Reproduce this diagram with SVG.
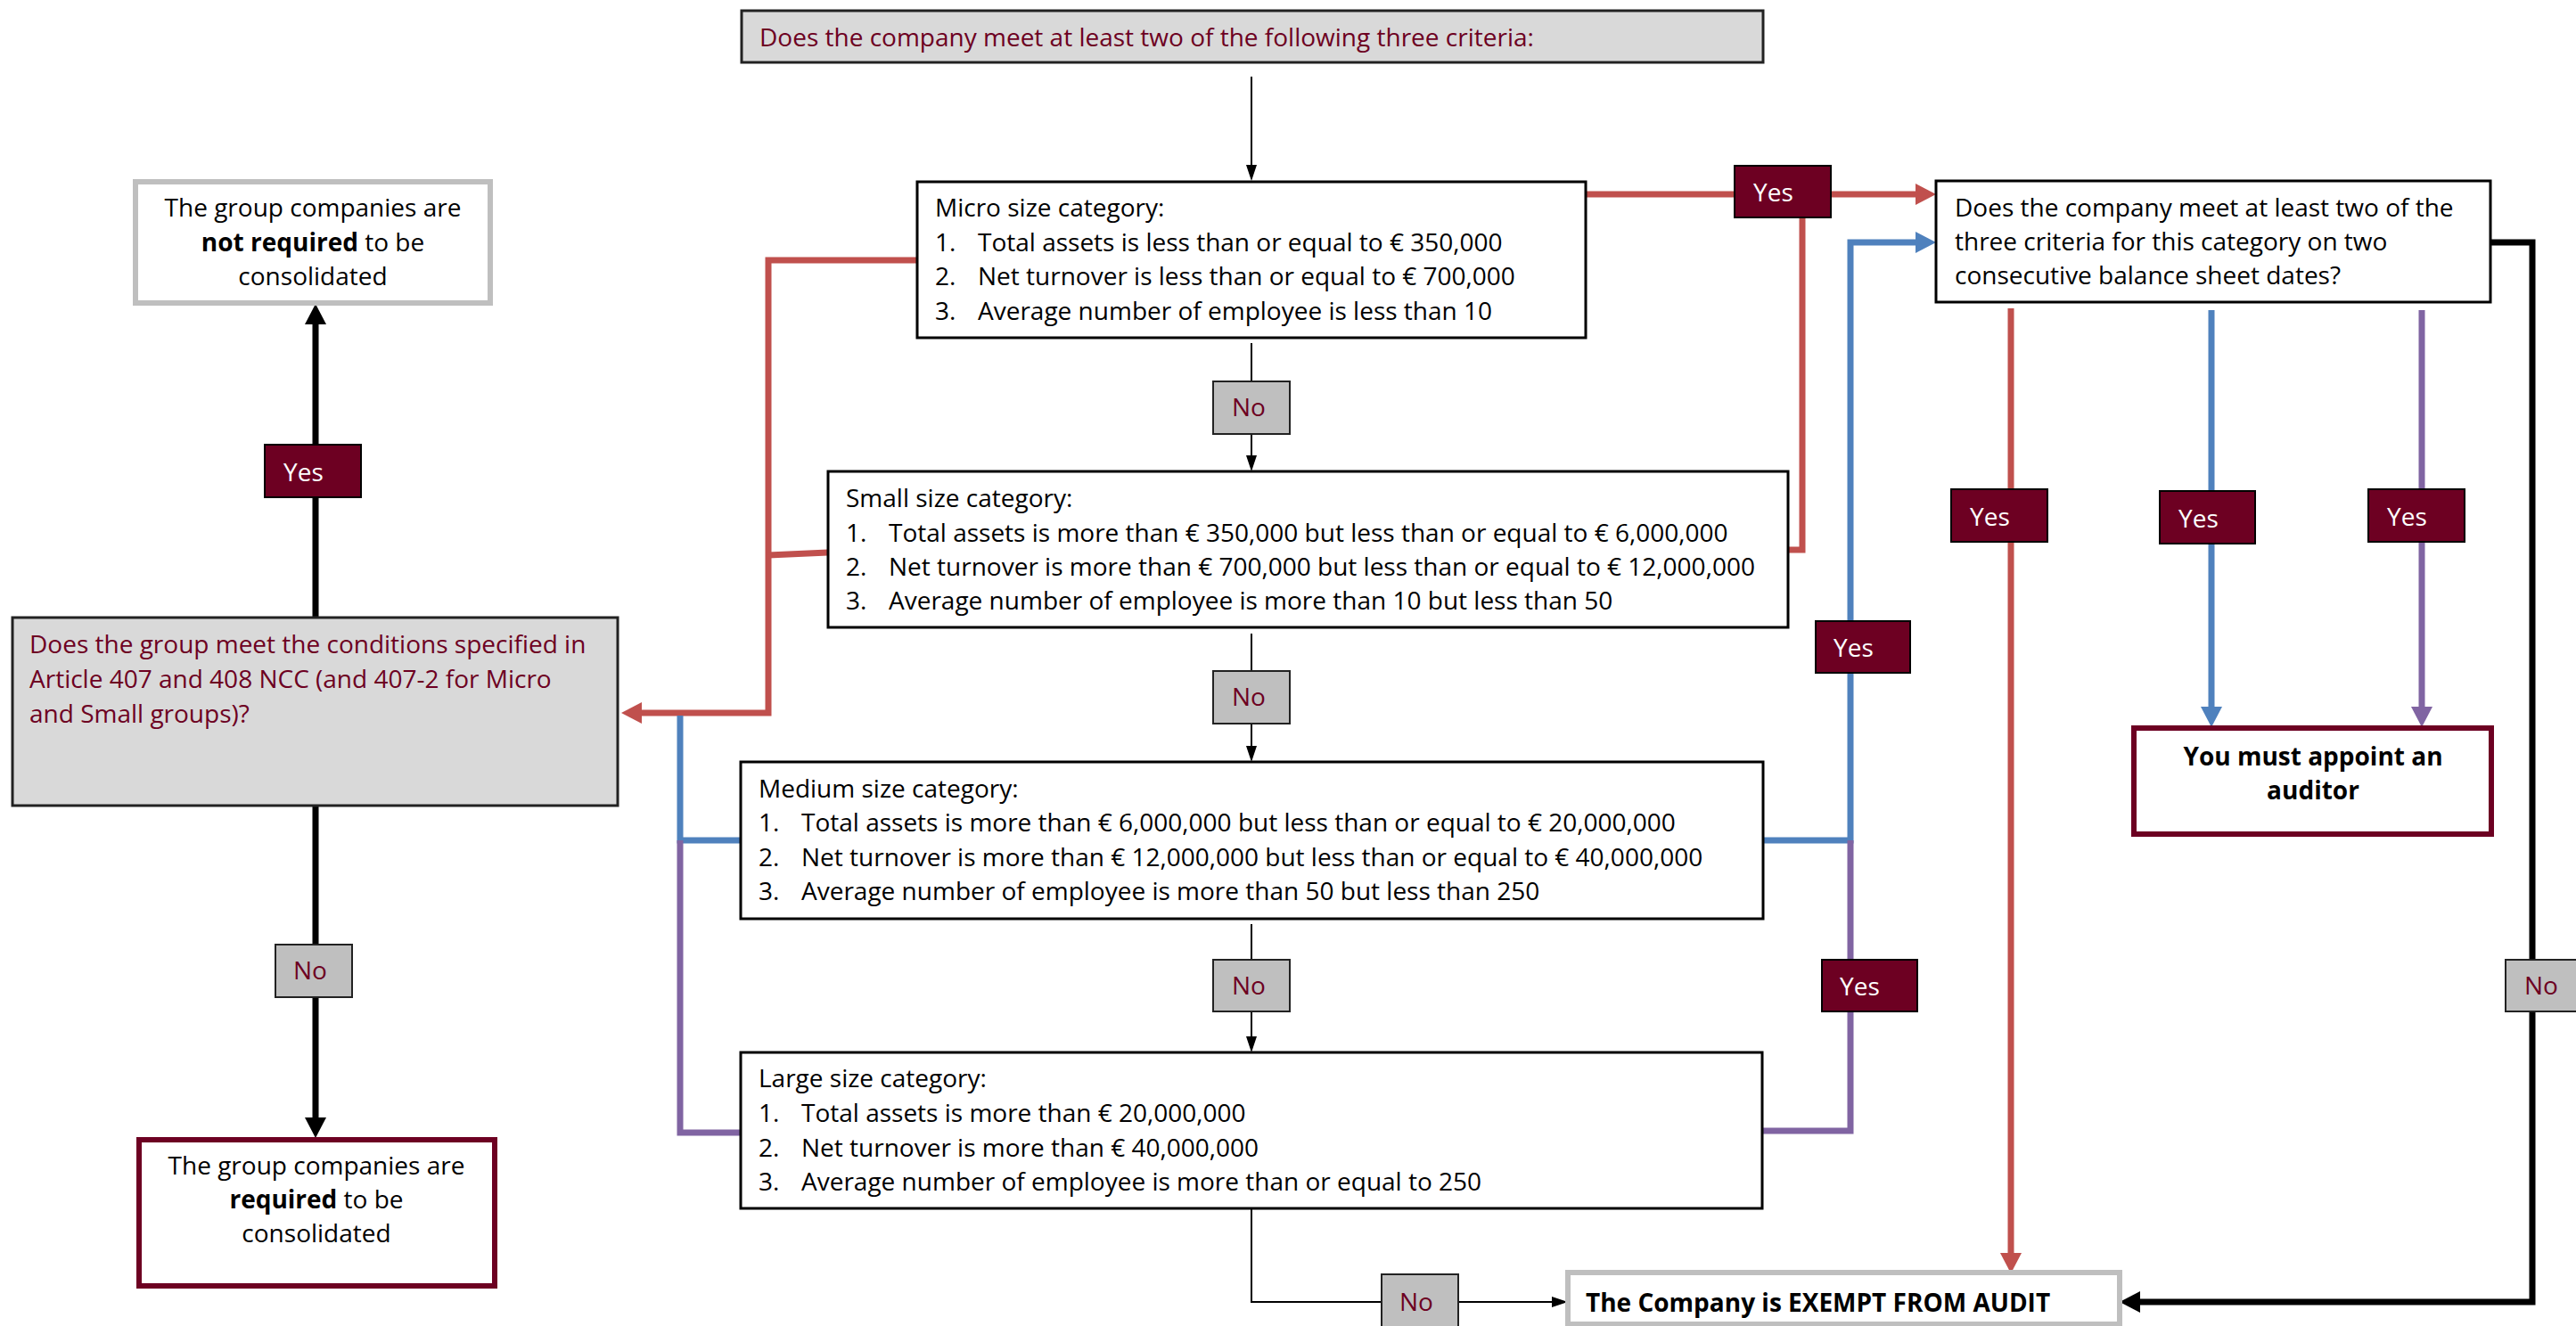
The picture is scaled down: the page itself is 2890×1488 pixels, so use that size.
<svg xmlns="http://www.w3.org/2000/svg" width="2890" height="1488" viewBox="0 0 2890 1488">
<style>
text{font-family:"Open Sans","Noto Sans","Liberation Sans",sans-serif;font-size:28px;fill:#000}
.q{fill:#6d0022}
.b{font-weight:bold}
.c{text-anchor:middle}
.box{fill:#fff;stroke:#000;stroke-width:3}
.qbox{fill:#d9d9d9;stroke:#222;stroke-width:3}
.gray{fill:#fff;stroke:#bfbfbf;stroke-width:6}
.mar{fill:#fff;stroke:#6d0022;stroke-width:6}
.yes{fill:#6d0022;stroke:#000;stroke-width:2}
.yes+text,.yt{fill:#fff}
.no{fill:#bfbfbf;stroke:#222;stroke-width:2}
.nt{fill:#6d0022}
.k{fill:none;stroke:#000;stroke-width:2}
.kk{fill:none;stroke:#000;stroke-width:7}
.r{fill:none;stroke:#c0504d;stroke-width:7}
.bl{fill:none;stroke:#4f81bd;stroke-width:7}
.p{fill:none;stroke:#8064a2;stroke-width:7}
</style>
<defs>
<marker id="ak" markerUnits="userSpaceOnUse" markerWidth="18" markerHeight="12" refX="0" refY="6" orient="auto"><path d="M0,0 L18,6 L0,12 z" fill="#000"/></marker>
<marker id="akk" markerUnits="userSpaceOnUse" markerWidth="23" markerHeight="24" refX="0" refY="12" orient="auto"><path d="M0,0 L23,12 L0,24 z" fill="#000"/></marker>
<marker id="ar" markerUnits="userSpaceOnUse" markerWidth="23" markerHeight="24" refX="0" refY="12" orient="auto"><path d="M0,0 L23,12 L0,24 z" fill="#c0504d"/></marker>
<marker id="ab" markerUnits="userSpaceOnUse" markerWidth="23" markerHeight="24" refX="0" refY="12" orient="auto"><path d="M0,0 L23,12 L0,24 z" fill="#4f81bd"/></marker>
<marker id="ap" markerUnits="userSpaceOnUse" markerWidth="23" markerHeight="24" refX="0" refY="12" orient="auto"><path d="M0,0 L23,12 L0,24 z" fill="#8064a2"/></marker>
</defs>

<g id="connectors">
<path class="k" d="M1404,86 V185" marker-end="url(#ak)"/>
<path class="k" d="M1404,385 V428"/>
<path class="k" d="M1404,487 V511" marker-end="url(#ak)"/>
<path class="k" d="M1404,711 V753"/>
<path class="k" d="M1404,812 V837" marker-end="url(#ak)"/>
<path class="k" d="M1404,1037 V1077"/>
<path class="k" d="M1404,1135 V1163" marker-end="url(#ak)"/>
<path class="k" d="M1404,1356 V1461 H1550"/>
<path class="k" d="M1636,1461 H1741" marker-end="url(#ak)"/>

<path class="r" d="M1779,218 H1946"/>
<path class="r" d="M2054,218 H2149" marker-end="url(#ar)"/>
<path class="r" d="M2022,244 V617 H2006"/>
<path class="r" d="M1029,292 H862 V800 H720" marker-end="url(#ar)"/>
<path class="r" d="M929,620 L862,623"/>
<path class="r" d="M2256,346 V549"/>
<path class="r" d="M2256,608 V1406" marker-end="url(#ar)"/>

<path class="bl" d="M1978,943 H2076 V272 H2149" marker-end="url(#ab)"/>
<path class="bl" d="M763,803 V943 H831"/>
<path class="bl" d="M2481,348 V551"/>
<path class="bl" d="M2481,610 V793" marker-end="url(#ab)"/>

<path class="p" d="M1978,1269 H2076 V943"/>
<path class="p" d="M763,943 V1271 H831"/>
<path class="p" d="M2717,348 V549"/>
<path class="p" d="M2717,608 V793" marker-end="url(#ap)"/>

<path class="kk" d="M2794,272 H2841 V1461 H2401" marker-end="url(#akk)"/>
<path class="kk" d="M354,693 V364" marker-end="url(#akk)"/>
<path class="kk" d="M354,904 V1254" marker-end="url(#akk)"/>
</g>

<g id="start">
<rect class="qbox" x="832" y="12" width="1146" height="58"/>
<text class="q" x="852" y="52">Does the company meet at least two of the following three criteria:</text>
</g>

<g id="micro">
<rect class="box" x="1029" y="204" width="750" height="175"/>
<text x="1049" y="243">Micro size category:</text>
<text x="1049" y="282">1.</text><text x="1097" y="282">Total assets is less than or equal to € 350,000</text>
<text x="1049" y="320">2.</text><text x="1097" y="320">Net turnover is less than or equal to € 700,000</text>
<text x="1049" y="359">3.</text><text x="1097" y="359">Average number of employee is less than 10</text>
</g>

<g id="small">
<rect class="box" x="929" y="529" width="1077" height="175"/>
<text x="949" y="569">Small size category:</text>
<text x="949" y="608">1.</text><text x="997" y="608">Total assets is more than € 350,000 but less than or equal to € 6,000,000</text>
<text x="949" y="646">2.</text><text x="997" y="646">Net turnover is more than € 700,000 but less than or equal to € 12,000,000</text>
<text x="949" y="684">3.</text><text x="997" y="684">Average number of employee is more than 10 but less than 50</text>
</g>

<g id="medium">
<rect class="box" x="831" y="855" width="1147" height="176"/>
<text x="851" y="895">Medium size category:</text>
<text x="851" y="933">1.</text><text x="899" y="933">Total assets is more than € 6,000,000 but less than or equal to € 20,000,000</text>
<text x="851" y="972">2.</text><text x="899" y="972">Net turnover is more than € 12,000,000 but less than or equal to € 40,000,000</text>
<text x="851" y="1010">3.</text><text x="899" y="1010">Average number of employee is more than 50 but less than 250</text>
</g>

<g id="large">
<rect class="box" x="831" y="1181" width="1146" height="175"/>
<text x="851" y="1220">Large size category:</text>
<text x="851" y="1259">1.</text><text x="899" y="1259">Total assets is more than € 20,000,000</text>
<text x="851" y="1298">2.</text><text x="899" y="1298">Net turnover is more than € 40,000,000</text>
<text x="851" y="1336">3.</text><text x="899" y="1336">Average number of employee is more than or equal to 250</text>
</g>

<g id="two-dates">
<rect class="box" x="2172" y="203" width="622" height="136"/>
<text x="2193" y="243">Does the company meet at least two of the</text>
<text x="2193" y="281">three criteria for this category on two</text>
<text x="2193" y="319">consecutive balance sheet dates?</text>
</g>

<g id="auditor">
<rect class="mar" x="2394" y="817" width="401" height="119"/>
<text class="b c" x="2595" y="859">You must appoint an</text>
<text class="b c" x="2595" y="897">auditor</text>
</g>

<g id="exempt">
<rect class="gray" x="1759" y="1428" width="619" height="58"/>
<text class="b" x="1779" y="1472">The Company is EXEMPT FROM AUDIT</text>
</g>

<g id="group-question">
<rect class="qbox" x="14" y="693" width="679" height="211"/>
<text class="q" x="33" y="733">Does the group meet the conditions specified in</text>
<text class="q" x="33" y="772">Article 407 and 408 NCC (and 407-2 for Micro</text>
<text class="q" x="33" y="811">and Small groups)?</text>
</g>

<g id="not-required">
<rect class="gray" x="152" y="204" width="398" height="136"/>
<text class="c" x="351" y="243">The group companies are</text>
<text class="c" x="351" y="282"><tspan class="b">not required</tspan> to be</text>
<text class="c" x="351" y="320">consolidated</text>
</g>

<g id="required">
<rect class="mar" x="156" y="1279" width="399" height="164"/>
<text class="c" x="355" y="1318">The group companies are</text>
<text class="c" x="355" y="1356"><tspan class="b">required</tspan> to be</text>
<text class="c" x="355" y="1394">consolidated</text>
</g>

<g id="labels">
<rect class="yes" x="1946" y="186" width="108" height="58"/><text class="yt" x="1967" y="226">Yes</text>
<rect class="yes" x="2037" y="697" width="106" height="58"/><text class="yt" x="2057" y="737">Yes</text>
<rect class="yes" x="2044" y="1077" width="107" height="58"/><text class="yt" x="2064" y="1117">Yes</text>
<rect class="yes" x="2189" y="549" width="108" height="59"/><text class="yt" x="2210" y="590">Yes</text>
<rect class="yes" x="2423" y="551" width="107" height="59"/><text class="yt" x="2444" y="592">Yes</text>
<rect class="yes" x="2657" y="549" width="108" height="59"/><text class="yt" x="2678" y="590">Yes</text>
<rect class="yes" x="297" y="499" width="108" height="59"/><text class="yt" x="318" y="540">Yes</text>

<rect class="no" x="1361" y="428" width="86" height="59"/><text class="nt" x="1382" y="467">No</text>
<rect class="no" x="1361" y="753" width="86" height="59"/><text class="nt" x="1382" y="792">No</text>
<rect class="no" x="1361" y="1077" width="86" height="58"/><text class="nt" x="1382" y="1116">No</text>
<rect class="no" x="1550" y="1430" width="86" height="62"/><text class="nt" x="1570" y="1471">No</text>
<rect class="no" x="309" y="1060" width="86" height="59"/><text class="nt" x="329" y="1099">No</text>
<rect class="no" x="2811" y="1077" width="90" height="58"/><text class="nt" x="2832" y="1116">No</text>
</g>
</svg>
